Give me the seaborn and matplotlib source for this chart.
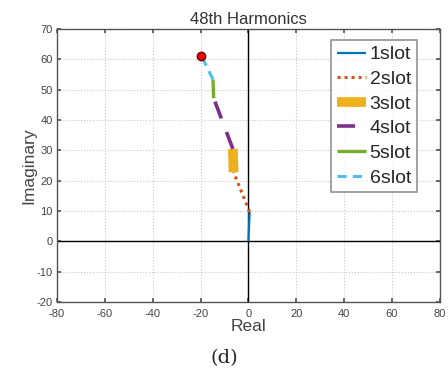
import numpy as np
import pandas as pd
import matplotlib
matplotlib.use("Agg")
import matplotlib.pyplot as plt
import seaborn as sns

# segment end points
slots = ["1slot", "2slot", "3slot", "4slot", "5slot", "6slot"]
real_pts = [0.0, 0.5, -6.2, -6.5, -14.5, -14.8, -19.7]
imag_pts = [0.0, 9.7, 22.8, 30.5, 47.2, 53.4, 61.2]
start_real = -20.0
start_imag = 61.0

colors = ["#0072BD", "#D95319", "#EDB120", "#7E2F8E", "#77AC30", "#4DBEEE"]
widths = [1.6, 2.2, 7.0, 2.6, 2.4, 2.2]
styles = ["-", (0, (1, 1.3)), "-", (0, (5, 4)), "-", (0, (3, 2))]

sns.set_theme(style="white")
plt.rcParams['font.family'] = ['Arial', 'Liberation Sans', 'DejaVu Sans']
plt.rcParams['axes.unicode_minus'] = False

fig = plt.figure(figsize=(4.48, 3.78), dpi=100)
ax = fig.add_axes([0.127, 0.201, 0.855, 0.722])

ax.axhline(0, color="black", lw=1.0, zorder=1)
ax.axvline(0, color="black", lw=1.0, zorder=1)

for i, name in enumerate(slots):
    seg = pd.DataFrame({"Real": real_pts[i:i + 2], "Imaginary": imag_pts[i:i + 2]})
    sns.lineplot(data=seg, x="Real", y="Imaginary", ax=ax, sort=False,
                 color=colors[i], lw=widths[i], linestyle=styles[i], label=name,
                 solid_capstyle="butt", dash_capstyle="butt", zorder=3)

ax.plot([start_real], [start_imag], "o", color="red", mec="#600000", ms=6, zorder=4)

ax.set_xlim(-80, 80)
ax.set_ylim(-20, 70)
ax.set_xticks(np.arange(-80, 81, 20))
ax.set_yticks(np.arange(-20, 71, 10))
ax.grid(True, linestyle=":", color="#c8c8c8", lw=0.8)
ax.tick_params(direction="in", length=3, labelsize=8, colors="#555555",
               labelcolor="#444444", top=True, right=True, bottom=True, left=True)
ax.tick_params(axis="x", pad=5)
ax.tick_params(axis="y", pad=3)
for s in ax.spines.values():
    s.set_color("#555555")
    s.set_linewidth(1.0)

ax.set_title("48th Harmonics", fontsize=12, color="#333333", pad=4)
ax.set_xlabel("Real", fontsize=12.5, color="#444444", labelpad=0)
ax.set_ylabel("Imaginary", fontsize=12.5, color="#444444", labelpad=0)

leg = ax.legend(loc="upper right", fontsize=14, frameon=True, fancybox=False,
                handlelength=1.5, handletextpad=0.2, borderpad=0.3,
                labelspacing=0.36, borderaxespad=0,
                bbox_to_anchor=(0.94, 0.96))
leg.get_frame().set_edgecolor("#777777")
leg.get_frame().set_linewidth(1.2)

fig.text(0.5, 0.04, "(d)", ha="center", fontsize=14, family="DejaVu Serif")

fig.savefig("out.png", dpi=100)
